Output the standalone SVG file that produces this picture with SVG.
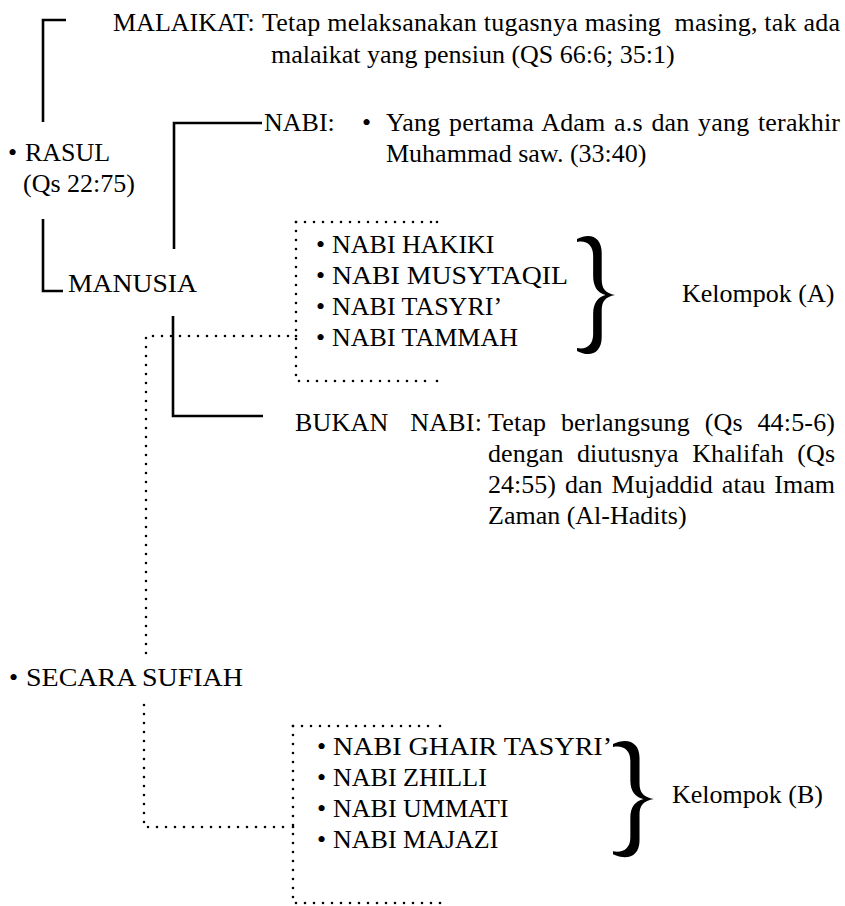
<svg xmlns="http://www.w3.org/2000/svg" xmlns:xlink="http://www.w3.org/1999/xlink" width="845" height="906" viewBox="0 0 845 906">
<style>
text { font-family: 'Liberation Serif', 'DejaVu Serif', serif; font-size: 26px; fill: #000; }
.pre { white-space: pre; }
.solid { stroke: #000; stroke-width: 2.6; fill: none; }
.dot { stroke: #000; stroke-width: 2.6; stroke-linecap: round; stroke-dasharray: 0 9; fill: none; }
.dd { fill: #000; }
.brace { fill: #000; }
</style>
<defs>
<path id="brace" d="M 0,4 C 14,-3 26,2 26,18 L 26,44 C 26,54 30,58 40,60 C 30,62 26,66 26,76 L 26,102 C 26,118 14,123 0,116 L 0,113 C 10,115 17,110 17,99 L 17,79 C 17,68 22,62 30,60 C 22,58 17,52 17,41 L 17,21 C 17,10 10,5 0,7 Z"/>
</defs>
<rect width="845" height="906" fill="#fff"/>

<g id="connectors">
  <path class="solid" d="M66,20 L43,20 L43,122"/>
  <path class="solid" d="M43,219 L43,291 L63,291"/>
  <path class="solid" d="M262,123 L174,123 L174,249"/>
  <path class="solid" d="M173,316 L173,416 L263,416"/>
  <path class="dot" d="M146,653 L146,336 L293,336"/>
  <circle class="dd" cx="296" cy="336" r="1.3"/>
  <path class="dot" d="M144,705 L144,827 L290,827"/>
  <circle class="dd" cx="293" cy="827" r="1.3"/>
</g>

<g id="malaikat">
  <text x="113" y="31" font-family="Liberation Serif">MALAIKAT:</text>
  <text class="pre" x="262" y="31" textLength="578" lengthAdjust="spacing">Tetap melaksanakan tugasnya masing  masing, tak ada</text>
  <text x="271" y="63">malaikat yang pensiun (QS 66:6; 35:1)</text>
</g>

<g id="rasul">
  <text x="8" y="161">•</text>
  <text x="25" y="161">RASUL</text>
  <text x="23" y="192">(Qs 22:75)</text>
</g>

<g id="nabi">
  <text x="264" y="131">NABI:</text>
  <text x="362" y="131">•</text>
  <text x="386" y="131" textLength="454" lengthAdjust="spacing" word-spacing="2">Yang pertama Adam a.s dan yang terakhir</text>
  <text x="386" y="162">Muhammad saw. (33:40)</text>
</g>

<g id="manusia">
  <text x="68" y="292" textLength="129" lengthAdjust="spacingAndGlyphs">MANUSIA</text>
</g>

<g id="kelompok-a-box">
  <path class="dot" d="M296,222 L434,222"/>
  <circle class="dd" cx="437" cy="222" r="1.3"/>
  <path class="dot" d="M296,222 L296,381 L434,381"/>
  <circle class="dd" cx="437" cy="381" r="1.3"/>
  <text x="316" y="253">•</text><text x="332" y="253">NABI HAKIKI</text>
  <text x="316" y="284">•</text><text x="332" y="284" textLength="236" lengthAdjust="spacingAndGlyphs">NABI MUSYTAQIL</text>
  <text x="316" y="315">•</text><text x="332" y="315">NABI TASYRI’</text>
  <text x="316" y="346">•</text><text x="332" y="346">NABI TAMMAH</text>
</g>

<g id="kelompok-a">
  <use xlink:href="#brace" class="brace" transform="translate(577,235) scale(0.95,1)"/>
  <text x="682" y="302">Kelompok (A)</text>
</g>

<g id="bukan-nabi">
  <text x="295" y="431" textLength="187" lengthAdjust="spacing" word-spacing="15">BUKAN NABI:</text>
  <text x="488" y="431" textLength="347" lengthAdjust="spacing" word-spacing="8">Tetap berlangsung (Qs 44:5-6)</text>
  <text x="488" y="462" textLength="347" lengthAdjust="spacing" word-spacing="7">dengan diutusnya Khalifah (Qs</text>
  <text x="488" y="493" textLength="347" lengthAdjust="spacing" word-spacing="2.5">24:55) dan Mujaddid atau Imam</text>
  <text x="488" y="524">Zaman (Al-Hadits)</text>
</g>

<g id="secara-sufiah">
  <text x="9" y="686">•</text>
  <text x="26" y="686" textLength="217" lengthAdjust="spacingAndGlyphs">SECARA SUFIAH</text>
</g>

<g id="kelompok-b-box">
  <path class="dot" d="M293,726 L437,726"/>
  <circle class="dd" cx="440" cy="726" r="1.3"/>
  <path class="dot" d="M293,726 L293,903 L437,903"/>
  <circle class="dd" cx="440" cy="903" r="1.3"/>
  <text x="317" y="755">•</text><text x="333" y="755" textLength="279" lengthAdjust="spacingAndGlyphs">NABI GHAIR TASYRI’</text>
  <text x="317" y="786">•</text><text x="333" y="786">NABI ZHILLI</text>
  <text x="317" y="817">•</text><text x="333" y="817">NABI UMMATI</text>
  <text x="317" y="848">•</text><text x="333" y="848">NABI MAJAZI</text>
</g>

<g id="kelompok-b">
  <use xlink:href="#brace" class="brace" transform="translate(613,740) scale(1.02,0.985)"/>
  <text x="672" y="803">Kelompok (B)</text>
</g>
</svg>
